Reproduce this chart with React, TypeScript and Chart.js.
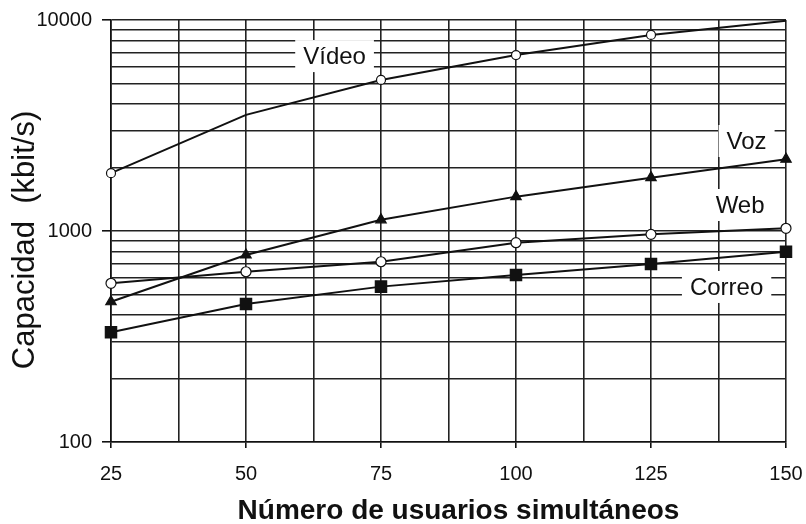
import { useEffect, useRef } from 'react';
import { Chart, registerables } from 'chart.js';

Chart.register(...registerables);

// ---- data ----
const users = [25, 50, 75, 100, 125, 150];
const video = [1880, 3550, 5200, 6820, 8500, 9920];
const voz = [462, 770, 1130, 1455, 1790, 2190];
const web = [565, 641, 715, 880, 964, 1030];
const correo = [331, 451, 545, 619, 698, 798];
const videoMarkerRadius = [4.5, 0, 4.5, 4.5, 4.5, 0];

const xMin = 25;
const xMax = 150;
const xGridStep = 12.5;
const xTickLabels = [25, 50, 75, 100, 125, 150];

const yMin = 100;
const yMax = 10000;
const yGridValues = [100, 200, 300, 400, 500, 600, 700, 800, 900, 1000, 2000, 3000, 4000, 5000, 6000, 7000, 8000, 9000, 10000];
const yTickLabels = [100, 1000, 10000];

const xTitle = 'Número de usuarios simultáneos';
const yTitle = 'Capacidad  (kbit/s)';

// series name annotations, anchored in data coordinates
const seriesNames = ['Vídeo', 'Voz', 'Web', 'Correo'];
const seriesNameX = [66.4, 142.7, 141.5, 139];
const seriesNameY = [6745, 2670, 1328, 543];

const FONT = '"Liberation Sans", Arial, Helvetica, sans-serif';
const INK = '#111';

const pts = (vals: number[]) => users.map((u, i) => ({ x: u, y: vals[i] }));

const seriesLabelPlugin = {
  id: 'seriesLabelPlugin',
  beforeDatasetsDraw(chart: any) {
    const { ctx, scales } = chart;
    const xs = scales.x;
    const ys = scales.y;
    ctx.save();
    ctx.font = `24px ${FONT}`;
    ctx.textAlign = 'center';
    ctx.textBaseline = 'middle';
    seriesNames.forEach((t, i) => {
      const px = xs.getPixelForValue(seriesNameX[i]);
      const py = ys.getPixelForValue(seriesNameY[i]);
      const w = ctx.measureText(t).width + 16;
      const h = 32;
      ctx.fillStyle = '#fff';
      ctx.fillRect(px - w / 2, py - h / 2, w, h);
      ctx.fillStyle = INK;
      ctx.fillText(t, px, py + 1);
    });
    ctx.restore();
  },
};

const axisTitlePlugin = {
  id: 'axisTitlePlugin',
  afterDraw(chart: any) {
    const { ctx, chartArea } = chart;
    ctx.save();
    ctx.fillStyle = INK;
    ctx.textAlign = 'center';
    ctx.textBaseline = 'middle';
    ctx.font = `bold 28px ${FONT}`;
    ctx.fillText(xTitle, (chartArea.left + chartArea.right) / 2 + 10, chartArea.bottom + 69);
    ctx.translate(25, (chartArea.top + chartArea.bottom) / 2 + 9);
    ctx.rotate(-Math.PI / 2);
    ctx.font = `31px ${FONT}`;
    ctx.fillText(yTitle, 0, 0);
    ctx.restore();
  },
};

export default function App() {
  const ref = useRef<HTMLCanvasElement>(null);

  useEffect(() => {
    const common = {
      borderColor: INK,
      borderWidth: 2,
      tension: 0,
      clip: false as any,
      pointBorderColor: INK,
      pointBorderWidth: 1.2,
    };
    const chart = new Chart(ref.current as HTMLCanvasElement, {
      type: 'line',
      data: {
        datasets: [
          {
            ...common,
            label: 'Vídeo',
            data: pts(video),
            pointStyle: 'circle',
            pointRadius: videoMarkerRadius,
            pointBackgroundColor: '#fff',
          },
          {
            ...common,
            label: 'Voz',
            data: pts(voz),
            pointStyle: 'triangle',
            pointRadius: 6,
            pointBackgroundColor: INK,
          },
          {
            ...common,
            label: 'Web',
            data: pts(web),
            pointStyle: 'circle',
            pointRadius: 5,
            pointBackgroundColor: '#fff',
          },
          {
            ...common,
            label: 'Correo',
            data: pts(correo),
            pointStyle: 'rect',
            pointRadius: 8,
            pointBackgroundColor: INK,
          },
        ] as any,
      },
      options: {
        animation: false,
        responsive: false,
        devicePixelRatio: 1,
        layout: { padding: { top: 20, right: 20, left: 0, bottom: 0 } },
        plugins: {
          legend: { display: false },
          tooltip: { enabled: false },
        },
        scales: {
          x: {
            type: 'linear',
            min: xMin,
            max: xMax,
            afterFit: (s: any) => {
              s.height = 82;
              s.paddingLeft = 0;
              s.paddingRight = 0;
            },
            ticks: {
              stepSize: xGridStep,
              autoSkip: false,
              maxRotation: 0,
              padding: 14,
              color: INK,
              font: { family: FONT, size: 20 },
              callback: (v: any) => (xTickLabels.includes(Number(v)) ? String(v) : ''),
            },
            grid: {
              color: '#222',
              lineWidth: 1.6,
              drawTicks: true,
              tickLength: 6,
              tickColor: (c: any) => (c.tick && xTickLabels.includes(c.tick.value) ? INK : 'rgba(0,0,0,0)'),
            },
            border: { color: INK, width: 1.6 },
          },
          y: {
            type: 'logarithmic',
            min: yMin,
            max: yMax,
            afterBuildTicks: (s: any) => {
              s.ticks = yGridValues.map((v) => ({ value: v }));
            },
            afterFit: (s: any) => {
              s.width = 111;
              s.paddingTop = 0;
              s.paddingBottom = 0;
            },
            ticks: {
              autoSkip: false,
              padding: 10,
              color: INK,
              font: { family: FONT, size: 20 },
              callback: (v: any) => (yTickLabels.includes(Number(v)) ? String(v) : ''),
            },
            grid: {
              color: '#222',
              lineWidth: 1.6,
              drawTicks: true,
              tickLength: 9,
              tickColor: (c: any) => (c.tick && yTickLabels.includes(c.tick.value) ? INK : 'rgba(0,0,0,0)'),
            },
            border: { color: INK, width: 1.6 },
          },
        } as any,
      },
      plugins: [seriesLabelPlugin, axisTitlePlugin],
    });
    return () => chart.destroy();
  }, []);

  return (
    <div style={{ position: 'absolute', left: 0, top: 0, width: 806, height: 524, background: '#fff' }}>
      <canvas ref={ref} width={806} height={524} style={{ width: 806, height: 524, display: 'block' }} />
    </div>
  );
}
